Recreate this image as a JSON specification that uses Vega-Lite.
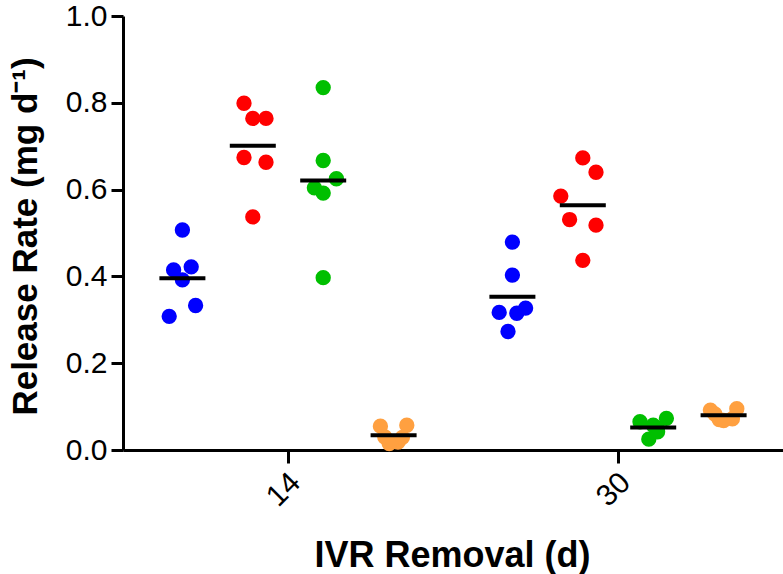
{
  "$schema": "https://vega.github.io/schema/vega-lite/v6.json",
  "width": 660,
  "height": 434,
  "autosize": {"type": "none"},
  "padding": {"left": 123, "top": 16, "right": 0, "bottom": 124},
  "background": "white",
  "config": {
    "view": {"stroke": null},
    "font": "Liberation Sans",
    "axis": {"labelFont": "Liberation Sans", "titleFont": "Liberation Sans", "labelColor": "black", "titleColor": "black", "domainColor": "black", "tickColor": "black", "grid": false}
  },
  "datasets": {
    "points": [
      {"day": "14", "group": "A", "value": 0.507, "slot": "A0"},
      {"day": "14", "group": "A", "value": 0.415, "slot": "A-2"},
      {"day": "14", "group": "A", "value": 0.422, "slot": "A2"},
      {"day": "14", "group": "A", "value": 0.392, "slot": "A0"},
      {"day": "14", "group": "A", "value": 0.333, "slot": "A3"},
      {"day": "14", "group": "A", "value": 0.308, "slot": "A-3"},
      {"day": "14", "group": "B", "value": 0.799, "slot": "B-2"},
      {"day": "14", "group": "B", "value": 0.764, "slot": "B0"},
      {"day": "14", "group": "B", "value": 0.764, "slot": "B3"},
      {"day": "14", "group": "B", "value": 0.674, "slot": "B-2"},
      {"day": "14", "group": "B", "value": 0.663, "slot": "B3"},
      {"day": "14", "group": "B", "value": 0.537, "slot": "B0"},
      {"day": "14", "group": "C", "value": 0.835, "slot": "C0"},
      {"day": "14", "group": "C", "value": 0.667, "slot": "C0"},
      {"day": "14", "group": "C", "value": 0.625, "slot": "C3"},
      {"day": "14", "group": "C", "value": 0.604, "slot": "C-2"},
      {"day": "14", "group": "C", "value": 0.592, "slot": "C0"},
      {"day": "14", "group": "C", "value": 0.397, "slot": "C0"},
      {"day": "14", "group": "D", "value": 0.055, "slot": "D-3"},
      {"day": "14", "group": "D", "value": 0.057, "slot": "D3"},
      {"day": "14", "group": "D", "value": 0.030, "slot": "D-2"},
      {"day": "14", "group": "D", "value": 0.018, "slot": "D1"},
      {"day": "14", "group": "D", "value": 0.015, "slot": "D-1"},
      {"day": "14", "group": "D", "value": 0.029, "slot": "D2"},
      {"day": "30", "group": "A", "value": 0.479, "slot": "A0"},
      {"day": "30", "group": "A", "value": 0.403, "slot": "A0"},
      {"day": "30", "group": "A", "value": 0.317, "slot": "A-3"},
      {"day": "30", "group": "A", "value": 0.315, "slot": "A1"},
      {"day": "30", "group": "A", "value": 0.327, "slot": "A3"},
      {"day": "30", "group": "A", "value": 0.273, "slot": "A-1"},
      {"day": "30", "group": "B", "value": 0.673, "slot": "B0"},
      {"day": "30", "group": "B", "value": 0.640, "slot": "B3"},
      {"day": "30", "group": "B", "value": 0.585, "slot": "B-5"},
      {"day": "30", "group": "B", "value": 0.531, "slot": "B-3"},
      {"day": "30", "group": "B", "value": 0.518, "slot": "B3"},
      {"day": "30", "group": "B", "value": 0.437, "slot": "B0"},
      {"day": "30", "group": "C", "value": 0.065, "slot": "C-3"},
      {"day": "30", "group": "C", "value": 0.073, "slot": "C3"},
      {"day": "30", "group": "C", "value": 0.057, "slot": "C0"},
      {"day": "30", "group": "C", "value": 0.025, "slot": "C-1"},
      {"day": "30", "group": "C", "value": 0.042, "slot": "C1"},
      {"day": "30", "group": "C", "value": 0.050, "slot": "C1"},
      {"day": "30", "group": "D", "value": 0.092, "slot": "D-3"},
      {"day": "30", "group": "D", "value": 0.095, "slot": "D3"},
      {"day": "30", "group": "D", "value": 0.070, "slot": "D-1"},
      {"day": "30", "group": "D", "value": 0.072, "slot": "D2"},
      {"day": "30", "group": "D", "value": 0.068, "slot": "D0"},
      {"day": "30", "group": "D", "value": 0.083, "slot": "D-2"}
    ],
    "means": [
      {"day": "14", "group": "A", "mean": 0.396, "slot": "A0"},
      {"day": "14", "group": "B", "mean": 0.701, "slot": "B0"},
      {"day": "14", "group": "C", "mean": 0.621, "slot": "C0"},
      {"day": "14", "group": "D", "mean": 0.034, "slot": "D0"},
      {"day": "30", "group": "A", "mean": 0.353, "slot": "A0"},
      {"day": "30", "group": "B", "mean": 0.564, "slot": "B0"},
      {"day": "30", "group": "C", "mean": 0.052, "slot": "C0"},
      {"day": "30", "group": "D", "mean": 0.080, "slot": "D0"}
    ]
  },
  "layer": [
    {
      "data": {"name": "points"},
      "mark": {"type": "circle", "size": 235, "opacity": 1},
      "encoding": {
        "x": {
          "field": "day", "type": "nominal",
          "scale": {"domain": ["14", "30"], "paddingInner": 0, "paddingOuter": 0},
          "axis": {
            "title": "IVR Removal (d)",
            "titleFontSize": 36, "titleFontWeight": "bold",
            "titleX": 329, "titleY": 116, "titleBaseline": "alphabetic", "titleAlign": "center",
            "labelFontSize": 30, "labelAngle": -45, "labelPadding": 4, "labelOffset": -3,
            "tickSize": 13, "tickWidth": 3, "domainWidth": 3
          }
        },
        "xOffset": {
          "field": "slot", "type": "nominal",
          "scale": {
            "paddingInner": 0, "paddingOuter": 0,
            "domain": ["L1","L2","L3","L4","L5","L6","L7",
              "A-6","A-5","A-4","A-3","A-2","A-1","A0","A1","A2","A3","A4","A5","A6",
              "g1","g2","g3",
              "B-6","B-5","B-4","B-3","B-2","B-1","B0","B1","B2","B3","B4","B5","B6",
              "g4","g5","g6",
              "C-6","C-5","C-4","C-3","C-2","C-1","C0","C1","C2","C3","C4","C5","C6",
              "g7","g8","g9",
              "D-6","D-5","D-4","D-3","D-2","D-1","D0","D1","D2","D3","D4","D5","D6",
              "R1","R2","R3","R4","R5","R6","R7"]
          }
        },
        "y": {
          "field": "value", "type": "quantitative",
          "scale": {"domain": [0, 1], "nice": false, "zero": true},
          "axis": {
            "title": "Release Rate (mg d⁻¹)",
            "titleFontSize": 35, "titleFontWeight": "bold",
            "titleAngle": -90, "titleX": -87, "titleY": 220, "titleBaseline": "alphabetic", "titleAlign": "center",
            "values": [0, 0.2, 0.4, 0.6, 0.8, 1.0], "format": ".1f",
            "labelFontSize": 30, "labelPadding": 4,
            "tickSize": 12, "tickWidth": 3, "domainWidth": 3
          }
        },
        "color": {
          "field": "group", "type": "nominal",
          "scale": {"domain": ["A", "B", "C", "D"], "range": ["#0000FF", "#FF0000", "#00BF00", "#FFA040"]},
          "legend": null
        }
      }
    },
    {
      "data": {"name": "means"},
      "mark": {"type": "tick", "color": "black", "opacity": 1, "thickness": 4, "size": 46, "orient": "horizontal"},
      "encoding": {
        "x": {"field": "day", "type": "nominal"},
        "xOffset": {"field": "slot", "type": "nominal"},
        "y": {"field": "mean", "type": "quantitative"}
      }
    }
  ]
}
